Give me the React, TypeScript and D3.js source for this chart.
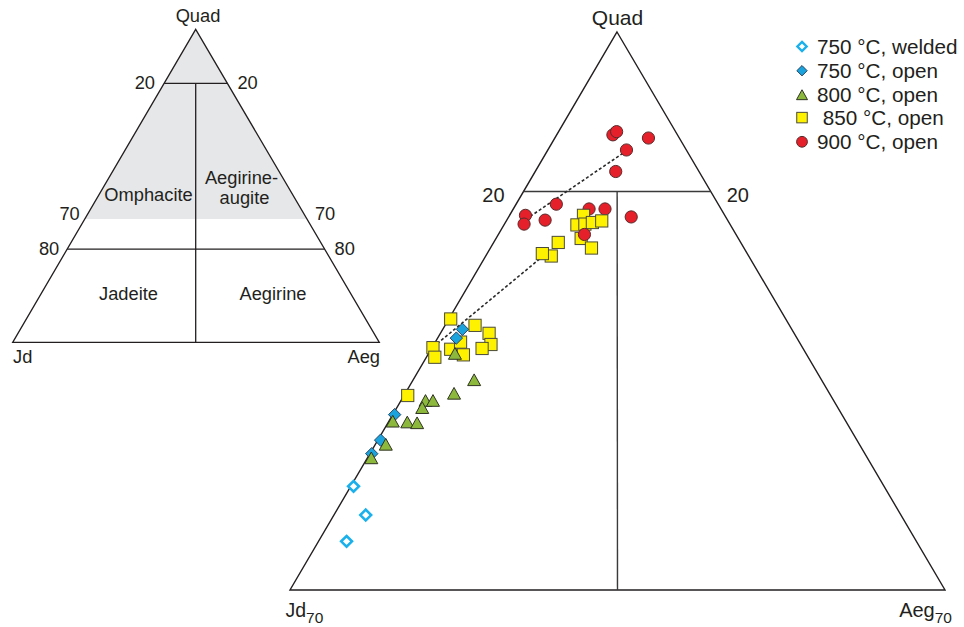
import React from "react";
import * as d3 from "d3";

// ---- Data: [Quad, Jd, Aeg] in percent (right diagram, Jd70–Aeg70–Quad) ----
const welded750: [number, number, number][] = [
  [43.0, 56.7, 0.3], [39.4, 57.2, 3.4], [36.1, 60.9, 3.0],
];
const open750: [number, number, number][] = [
  [62.7, 35.2, 2.1], [61.6, 36.4, 2.0], [52.0, 47.8, 0.2], [48.8, 50.9, 0.3], [47.1, 52.7, 0.2],
];
const open800: [number, number, number][] = [
  [56.2, 37.2, 6.6], [54.5, 40.2, 5.3], [53.6, 43.7, 2.7], [53.6, 42.9, 3.5], [52.7, 44.5, 2.8],
  [50.9, 47.0, 2.1], [50.8, 46.0, 3.2], [51.0, 48.5, 0.5], [48.1, 50.7, 1.2], [46.4, 53.1, 0.5],
];
const open800Top: [number, number, number][] = [[59.5, 37.6, 2.9]];
const open850: [number, number, number][] = [
  [64.0, 35.8, 0.2], [63.2, 33.6, 3.2], [62.2, 32.6, 5.2], [60.8, 33.1, 6.1], [60.3, 34.3, 5.4],
  [60.4, 39.5, 0.1], [59.2, 39.9, 0.9], [60.2, 37.7, 2.1], [61.1, 36.2, 2.7], [59.5, 36.7, 3.8],
  [54.4, 45.2, 0.4],
  [77.0, 15.1, 7.9], [75.8, 16.4, 7.8], [75.9, 15.5, 8.6], [76.1, 14.6, 9.3], [76.3, 13.5, 10.2],
  [74.1, 16.8, 9.1], [72.9, 16.3, 10.8], [73.6, 19.5, 6.9], [71.9, 21.1, 7.0], [72.2, 21.9, 5.9],
];
const open900: [number, number, number][] = [
  [87.1, 6.9, 6.0], [87.5, 6.3, 6.2], [86.7, 3.3, 10.0], [85.2, 6.4, 8.4], [82.5, 8.9, 8.6],
  [78.4, 17.3, 4.3], [77.8, 14.1, 8.1], [77.8, 12.4, 9.8], [76.8, 10.1, 13.1], [77.0, 21.3, 1.7],
  [75.9, 22.0, 2.1], [76.4, 19.5, 4.1],
];
const open900Top: [number, number, number][] = [[74.6, 16.2, 9.2]];
// dashed trend lines
const trend900: [number, number, number][] = [[76.5, 21.5, 2.0], [84.9, 6.8, 8.3]];
const trend850: [number, number, number][] = [[60.9, 38.8, 0.3], [72.2, 21.5, 6.3]];

const legendLabels = ["750 °C, welded", "750 °C, open", "800 °C, open", " 850 °C, open", "900 °C, open"];

// Left classification diagram levels (Quad %, as drawn)
const leftTopLevel = 82.7; // labelled 20
const leftShadeLevel = 39.4; // labelled 70
const leftLowLevel = 29.8; // labelled 80

const FONT = "'Liberation Sans', Arial, Helvetica, sans-serif";
const INK = "#231f20";

// ---- Right diagram scales ----
const qScaleR = d3.scaleLinear().domain([30, 100]).range([590, 32]);
const aScaleR = d3.scaleLinear().domain([0, 70]).range([290, 945]);
const qShiftR = d3.scaleLinear().domain([30, 100]).range([0, 327]);
const projR = (p: [number, number, number]): [number, number] => [aScaleR(p[2]) + qShiftR(p[0]), qScaleR(p[0])];

// ---- Left diagram scales ----
const lApex: [number, number] = [195.7, 29.3];
const lLeft: [number, number] = [12.7, 342.3];
const lRight: [number, number] = [379.3, 342.3];
const qScaleL = d3.scaleLinear().domain([0, 100]).range([lLeft[1], lApex[1]]);
const leftEdgeL = (q: number) => lLeft[0] + (q / 100) * (lApex[0] - lLeft[0]);
const rightEdgeL = (q: number) => lRight[0] - (q / 100) * (lRight[0] - lApex[0]);

const line = d3.line<[number, number]>();

function Diamond({ x, y, r, fill, stroke, sw }: any) {
  return <path d={`M${x},${y - r}L${x + r},${y}L${x},${y + r}L${x - r},${y}Z`} fill={fill} stroke={stroke} strokeWidth={sw} />;
}
function Tri({ x, y, s, fill, stroke }: any) {
  const h = s * 0.9;
  return <path d={`M${x},${y - h * 0.62}L${x + s / 2},${y + h * 0.38}L${x - s / 2},${y + h * 0.38}Z`} fill={fill} stroke={stroke} strokeWidth={1} />;
}
function Sq({ x, y, s, fill, stroke }: any) {
  return <rect x={x - s / 2} y={y - s / 2} width={s} height={s} fill={fill} stroke={stroke} strokeWidth={1} />;
}
function Circ({ x, y, r, fill, stroke }: any) {
  return <circle cx={x} cy={y} r={r} fill={fill} stroke={stroke} strokeWidth={1} />;
}

const C_WELD = "#1ab0ec";
const C_BLUE = "#1ba3de";
const C_GREEN = "#8cb83c";
const C_YEL = "#fff200";
const C_RED = "#e5202a";
const C_STROKE = "#4a4a3a";
const C_RSTROKE = "#5a2a2a";

export default function App() {
  const apexR = projR([100, 0, 0]);
  const jdR = projR([30, 70, 0]);
  const aegR = projR([30, 0, 70]);
  const q80L = projR([80, 20, 0]);
  const q80R = projR([80, 0, 20]);
  const q80M = projR([80, 10, 10]);
  const baseM = projR([30, 35, 35]);

  const shadeY = qScaleL(leftShadeLevel);
  const shade: [number, number][] = [lApex, [rightEdgeL(leftShadeLevel), shadeY], [leftEdgeL(leftShadeLevel), shadeY]];
  const topY = qScaleL(leftTopLevel);
  const lowY = qScaleL(leftLowLevel);
  const midX = lApex[0];

  const legendX = 802;
  const legendY0 = 46.5;
  const legendDy = 24.2;

  const circ = (p: [number, number, number], k: string) => {
    const [x, y] = projR(p);
    return <Circ key={k} x={x} y={y} r={6.1} fill={C_RED} stroke={C_RSTROKE} />;
  };
  const sq = (p: [number, number, number], k: string) => {
    const [x, y] = projR(p);
    return <Sq key={k} x={x} y={y} s={12.2} fill={C_YEL} stroke={C_STROKE} />;
  };
  const tri = (p: [number, number, number], k: string) => {
    const [x, y] = projR(p);
    return <Tri key={k} x={x} y={y} s={13} fill={C_GREEN} stroke="#2f3322" />;
  };
  const dia = (p: [number, number, number], k: string) => {
    const [x, y] = projR(p);
    return <Diamond key={k} x={x} y={y} r={6.2} fill={C_BLUE} stroke="#1f3550" sw={0.9} />;
  };

  return (
    <svg width={964} height={627} style={{ position: "absolute", left: 0, top: 0, background: "#fff" }} fontFamily={FONT}>
      <rect width={964} height={627} fill="#fff" />
      {/* ---------- Left diagram ---------- */}
      <path d={line(shade) + "Z"} fill="#e6e7e8" stroke="none" />
      <path d={line([lApex, lRight, lLeft]) + "Z"} fill="none" stroke={INK} strokeWidth={1.3} />
      <line x1={leftEdgeL(leftTopLevel)} x2={rightEdgeL(leftTopLevel)} y1={topY} y2={topY} stroke={INK} strokeWidth={1.3} />
      <line x1={leftEdgeL(leftLowLevel)} x2={rightEdgeL(leftLowLevel)} y1={lowY} y2={lowY} stroke={INK} strokeWidth={1.3} />
      <line x1={midX} x2={midX} y1={topY} y2={lLeft[1]} stroke={INK} strokeWidth={1.3} />
      <g fill={INK} fontSize={18.3}>
        <text x={198} y={22} textAnchor="middle">Quad</text>
        <text x={leftEdgeL(leftTopLevel) - 9} y={topY + 6} textAnchor="end">20</text>
        <text x={rightEdgeL(leftTopLevel) + 10} y={topY + 6}>20</text>
        <text x={leftEdgeL(leftShadeLevel) - 5} y={shadeY + 1} textAnchor="end">70</text>
        <text x={rightEdgeL(leftShadeLevel) + 8} y={shadeY + 1}>70</text>
        <text x={leftEdgeL(leftLowLevel) - 8} y={lowY + 6} textAnchor="end">80</text>
        <text x={rightEdgeL(leftLowLevel) + 10} y={lowY + 6}>80</text>
        <text x={148.5} y={201} textAnchor="middle">Omphacite</text>
        <text x={241.5} y={184} textAnchor="middle">Aegirine-</text>
        <text x={244.5} y={204} textAnchor="middle">augite</text>
        <text x={128.5} y={300} textAnchor="middle">Jadeite</text>
        <text x={273} y={300} textAnchor="middle">Aegirine</text>
        <text x={13} y={363}>Jd</text>
        <text x={380} y={363} textAnchor="end">Aeg</text>
      </g>

      {/* ---------- Right diagram ---------- */}
      <path d={line([apexR, aegR, jdR]) + "Z"} fill="none" stroke={INK} strokeWidth={1.4} />
      <line x1={q80L[0]} y1={q80L[1]} x2={q80R[0]} y2={q80R[1]} stroke="#3a3a3a" strokeWidth={1.4} />
      <line x1={q80M[0]} y1={q80M[1]} x2={baseM[0]} y2={baseM[1]} stroke="#3a3a3a" strokeWidth={1.4} />
      <g fill={INK}>
        <text x={617.5} y={25} textAnchor="middle" fontSize={21}>Quad</text>
        <text x={q80L[0] - 19} y={q80L[1] + 11} textAnchor="end" fontSize={20}>20</text>
        <text x={q80R[0] + 16} y={q80R[1] + 11} fontSize={20}>20</text>
        <text x={285.5} y={617} fontSize={19.5}>Jd<tspan fontSize={15.5} dy={6}>70</tspan></text>
        <text x={952} y={617} textAnchor="end" fontSize={20}>Aeg<tspan fontSize={15.5} dy={6}>70</tspan></text>
      </g>

      {/* dashed trend lines */}
      <path d={line(trend900.map(projR)) as string} stroke="#2a2a2a" strokeWidth={1.6} strokeDasharray="3,2.2" fill="none" />
      <path d={line(trend850.map(projR)) as string} stroke="#2a2a2a" strokeWidth={1.6} strokeDasharray="3,2.2" fill="none" />

      {/* data points */}
      {welded750.map((p, i) => {
        const [x, y] = projR(p);
        return <Diamond key={"w" + i} x={x} y={y} r={5.4} fill="#fff" stroke={C_WELD} sw={2.6} />;
      })}
      {open900.map((p, i) => circ(p, "c" + i))}
      {open850.map((p, i) => sq(p, "s" + i))}
      {open900Top.map((p, i) => circ(p, "ct" + i))}
      {open750.map((p, i) => dia(p, "o" + i))}
      {open800.map((p, i) => tri(p, "t" + i))}
      {open800Top.map((p, i) => tri(p, "tt" + i))}

      {/* ---------- Legend ---------- */}
      <Diamond x={legendX} y={legendY0} r={4.6} fill="#fff" stroke={C_WELD} sw={2.4} />
      <Diamond x={legendX} y={legendY0 + legendDy} r={5.2} fill={C_BLUE} stroke="#1f3550" sw={0.9} />
      <Tri x={legendX} y={legendY0 + legendDy * 2 + 1} s={11} fill={C_GREEN} stroke="#2f3322" />
      <Sq x={legendX} y={legendY0 + legendDy * 3 - 1.5} s={10.5} fill={C_YEL} stroke={C_STROKE} />
      <Circ x={legendX} y={legendY0 + legendDy * 4 - 1.5} r={5.4} fill={C_RED} stroke={C_RSTROKE} />
      <g fill={INK} fontSize={20.7}>
        {legendLabels.map((t, i) => (
          <text key={t} x={817} y={legendY0 + 7.5 + i * legendDy - (i >= 3 ? 1.5 : 0)} xmlSpace="preserve" style={{ whiteSpace: "pre" }}>{t}</text>
        ))}
      </g>
    </svg>
  );
}
